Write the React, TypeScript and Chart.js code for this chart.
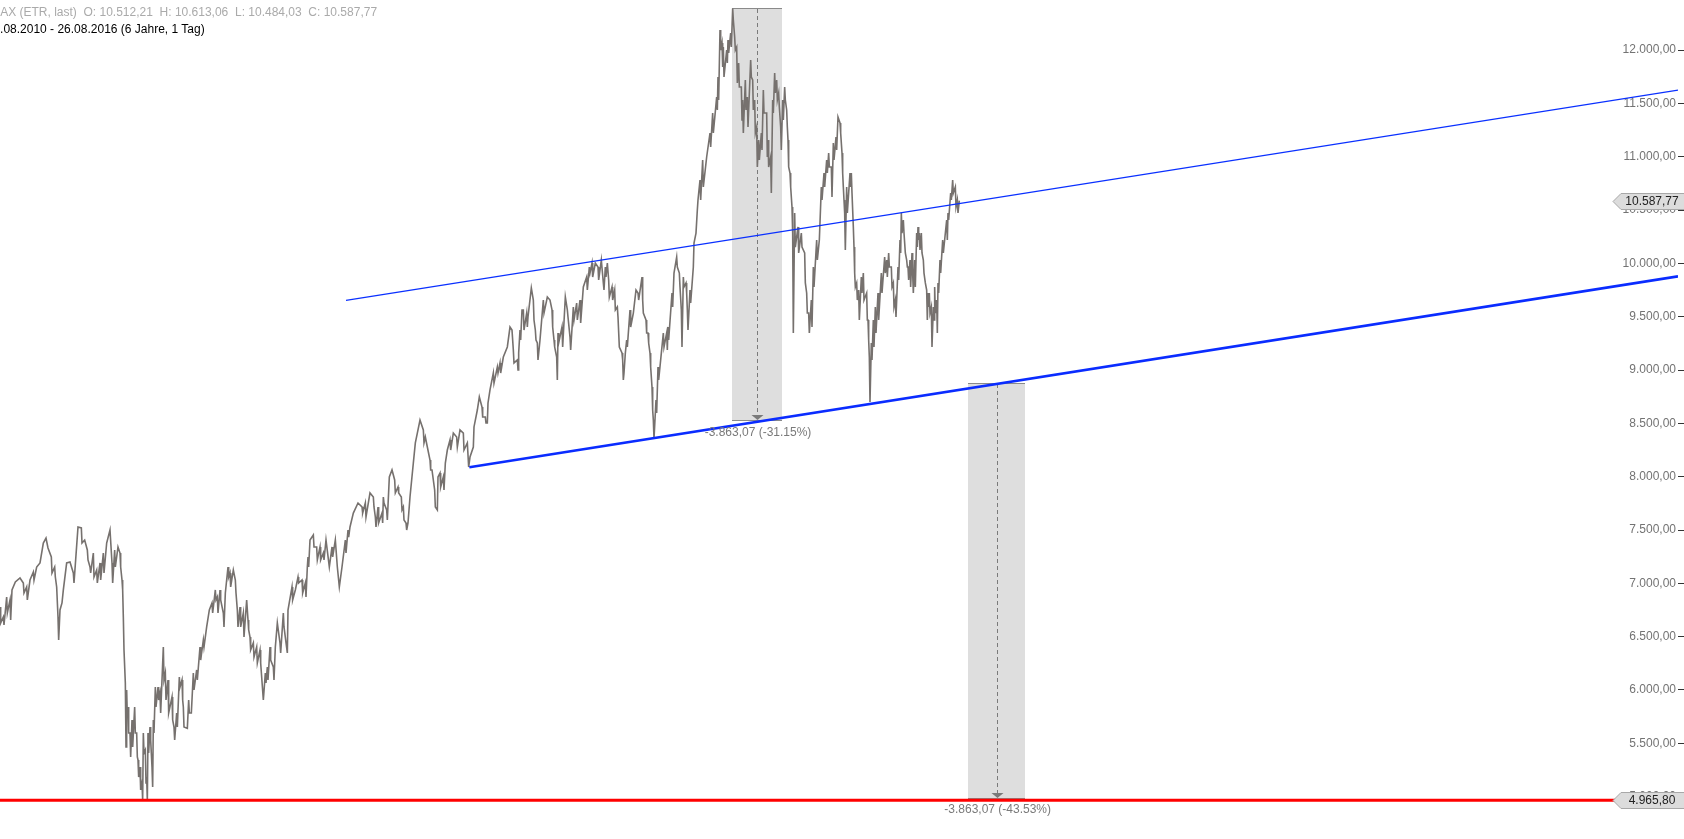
import React, { useEffect, useRef } from "react";
import { Chart, registerables } from "chart.js";

Chart.register(...registerables);

// ---- price series: [trading-day index, DAX level] (daily high / low swings) ----
const prices2011: [number, number][] = [
  [0, 6778], [1, 6628], [5, 6684], [6, 6609], [10, 6872], [11, 6722], [15, 6844], [16, 6656], [18, 6938], [23, 7013],
  [30, 7050], [35, 7003], [36, 6909], [40, 6966], [41, 6844], [45, 7031], [50, 7106], [51, 7031], [55, 7153], [60, 7191],
  [65, 7378], [69, 7425], [72, 7331], [77, 7247], [78, 7097], [82, 7153], [83, 7059], [85, 6966], [87, 6684], [88, 6469],
  [90, 6750], [93, 6816], [95, 6938], [100, 7191], [105, 7200], [110, 7097], [111, 7003], [114, 7266], [117, 7528], [122, 7519],
  [123, 7378], [127, 7406], [131, 7313], [132, 7219], [135, 7153], [136, 7097], [140, 7284], [141, 7059], [145, 7125], [146, 7003],
  [150, 7191], [151, 7031], [155, 7284], [156, 7097], [160, 7378], [165, 7500], [168, 7191], [169, 7003], [172, 7313], [173, 7153],
  [177, 7341], [180, 7284], [181, 7153], [183, 7031], [184, 6938], [185, 6684], [186, 6375], [188, 6066], [189, 5466], [190, 6000],
  [191, 5747], [192, 5841], [193, 5597], [195, 5597], [196, 5372], [198, 5719], [199, 5466], [202, 5841], [203, 5597], [205, 5597],
  [206, 5372], [207, 5344], [208, 5184], [210, 5278], [211, 5063], [213, 5128], [214, 4970], [215, 5597], [216, 5409], [218, 5438],
  [219, 5128], [220, 5184], [221, 4966], [222, 5597], [223, 5409], [225, 5653], [226, 5531], [228, 5278], [229, 5091], [230, 5719],
  [231, 5597], [233, 6028], [234, 5841], [237, 6028], [238, 5906],
];

const prices2012: [number, number][] = [
  [240, 5972], [241, 5784], [245, 6403], [246, 6094], [248, 6159], [249, 5906], [252, 6094], [253, 5784], [258, 5934], [259, 5719],
  [261, 5653], [262, 5531], [265, 5784], [266, 5653], [269, 6122], [270, 6028], [273, 6094], [274, 5906], [275, 5841], [276, 5653],
  [281, 5640], [283, 5906], [284, 5784], [287, 5784], [290, 6159], [291, 6000], [295, 6188], [296, 6094], [300, 6403], [301, 6281],
  [305, 6469], [306, 6403], [310, 6591], [314, 6750], [318, 6816], [319, 6722], [323, 6938], [324, 6844], [326, 6872], [327, 6722],
  [330, 6938], [331, 6844], [335, 6722], [336, 6591], [338, 6909], [342, 7153], [343, 7059], [345, 7097], [346, 6966], [350, 7125],
  [353, 7031], [354, 6909], [356, 6750], [357, 6591], [360, 6778], [361, 6591], [365, 6722], [366, 6497], [370, 6844], [372, 6656],
  [373, 6563], [375, 6497], [376, 6375], [380, 6441], [381, 6309], [385, 6403], [386, 6253], [390, 6375], [391, 6253], [395, 5906],
  [398, 6159], [399, 6066], [401, 6216], [402, 6094], [405, 6403], [406, 6281], [410, 6216], [411, 6094], [413, 6403], [416, 6628],
  [420, 6441], [421, 6347], [425, 6722], [426, 6591], [431, 6347], [432, 6750], [438, 6966], [439, 6844], [443, 6938], [447, 7059],
  [448, 7003], [453, 7031], [454, 6909], [458, 7003], [459, 6872], [461, 7153], [462, 7247], [463, 7153], [465, 7406], [470, 7453],
  [471, 7341], [475, 7341], [476, 7219], [480, 7341], [481, 7219], [485, 7284], [486, 7219], [489, 7406], [494, 7153], [498, 7341],
  [499, 7247], [503, 7406], [506, 7153], [509, 6966], [513, 7153], [518, 7406], [519, 7284], [522, 7500], [523, 7434], [525, 7528],
];

const prices2013: [number, number][] = [
  [530, 7659], [537, 7753], [543, 7716], [544, 7659], [548, 7753], [549, 7622], [555, 7847], [560, 7809], [561, 7716], [563, 7622],
  [564, 7528], [567, 7716], [568, 7566], [573, 7659], [574, 7566], [575, 7809], [576, 7753], [580, 7688], [581, 7594], [584, 7997],
  [588, 8063], [592, 7969], [593, 7847], [597, 7903], [598, 7847], [602, 7809], [603, 7688], [605, 7716], [606, 7594], [609, 7566],
  [610, 7500], [612, 7566], [615, 7809], [620, 8128], [623, 8316], [626, 8409], [630, 8531], [635, 8438], [636, 8316], [638, 8372],
  [641, 8278], [645, 8156], [646, 8063], [648, 8063], [652, 7875], [653, 7716], [656, 7688], [657, 7997], [660, 8034], [661, 7903],
  [665, 7997], [666, 7875], [668, 8128], [671, 8250], [675, 8344], [676, 8250], [680, 8409], [685, 8372], [686, 8278], [690, 8438],
  [695, 8409], [696, 8250], [701, 8316], [703, 8090], [705, 8184], [710, 8278], [711, 8466], [716, 8625], [719, 8747], [723, 8653],
  [724, 8559], [728, 8559], [729, 8503], [731, 8503], [732, 8691], [735, 8813], [740, 8972], [741, 8878], [746, 9028], [747, 8972],
  [750, 9066], [751, 8972], [755, 9122], [761, 9216], [765, 9403], [768, 9375], [770, 9188], [771, 9066], [776, 9094], [777, 9000],
  [778, 9159], [780, 9375], [781, 9281], [783, 9563], [785, 9563], [786, 9375], [790, 9534], [791, 9403], [792, 9497], [797, 9769],
  [800, 9656], [801, 9469], [803, 9375], [804, 9281], [806, 9253], [807, 9094], [810, 9281], [815, 9656], [816, 9534], [821, 9684],
  [825, 9656],
];

const prices2014: [number, number][] = [
  [828, 9563], [829, 9403], [831, 9281], [832, 9216], [835, 9122], [836, 8906], [837, 9347], [838, 9253], [843, 9403], [844, 9216],
  [848, 9684], [851, 9563], [852, 9497], [855, 9309], [856, 9188], [860, 9591], [861, 9469], [865, 9628], [866, 9469], [870, 9656],
  [871, 9441], [875, 9778], [880, 9872], [881, 9750], [884, 9966], [885, 9909], [888, 10003], [889, 9872], [893, 10003], [897, 9966],
  [898, 9844], [902, 10031], [905, 9816], [906, 9750], [908, 9966], [909, 9872], [911, 10003], [913, 9844], [914, 9684], [918, 9778],
  [919, 9656], [922, 9750], [923, 9563], [926, 9591], [927, 9497], [929, 9216], [933, 9159], [934, 9094], [935, 8906], [936, 8972],
  [938, 9159], [940, 9281], [941, 9216], [945, 9563], [946, 9403], [950, 9534], [954, 9750], [957, 9722], [958, 9656], [963, 9872],
  [964, 9656], [965, 9534], [969, 9469], [970, 9347], [972, 9347], [973, 9253], [975, 9159], [976, 9028], [978, 8841], [979, 8625],
  [980, 8531], [981, 8355], [984, 8719], [985, 8597], [987, 9028], [988, 8906], [992, 9159], [995, 9347], [996, 9216], [1000, 9347],
  [1001, 9188], [1002, 9403], [1003, 9281], [1008, 9722], [1009, 9591], [1011, 9909], [1015, 10059], [1016, 9966], [1019, 9909], [1020, 9778],
  [1022, 9563], [1023, 9216], [1025, 9872], [1026, 9778], [1029, 9816], [1030, 9722], [1031, 9563], [1032, 9375], [1035, 9750], [1036, 9628],
  [1040, 9966], [1041, 10191], [1044, 10284], [1046, 10500], [1047, 10594],
];

const prices2015: [number, number][] = [
  [1050, 10781], [1051, 10594], [1054, 10969], [1055, 10716], [1060, 10997], [1065, 11222], [1066, 11091], [1069, 11409], [1070, 11222], [1075, 11559],
  [1076, 11438], [1077, 11747], [1078, 11531], [1080, 12188], [1081, 12000], [1083, 12066], [1084, 11841], [1085, 12028], [1086, 11747], [1090, 12000],
  [1091, 11878], [1092, 12094], [1093, 11972], [1096, 12159], [1097, 12028], [1099, 12390], [1100, 12281], [1102, 12122], [1103, 12000], [1105, 12028],
  [1106, 11691], [1108, 11878], [1109, 11653], [1112, 11653], [1113, 11344], [1114, 11531], [1115, 11222], [1118, 11719], [1119, 11438], [1121, 11559],
  [1122, 11278], [1126, 11906], [1127, 11747], [1129, 11719], [1130, 11438], [1132, 11531], [1133, 11222], [1135, 11278], [1136, 10903], [1138, 11156],
  [1139, 10969], [1142, 11222], [1143, 11063], [1145, 11625], [1146, 11409], [1150, 11409], [1151, 10997], [1152, 11156], [1153, 10903], [1156, 10997],
  [1157, 10659], [1159, 11531], [1160, 11409], [1162, 11784], [1163, 11597], [1165, 11719], [1166, 11531], [1168, 11597], [1169, 11466], [1171, 11278],
  [1172, 11063], [1174, 11531], [1175, 11344], [1177, 11653], [1178, 11531], [1180, 11438], [1181, 11278], [1182, 11156], [1183, 10903], [1185, 10847],
  [1186, 10716], [1188, 10528], [1189, 10284], [1190, 9347], [1192, 10472], [1193, 10153], [1197, 10341], [1198, 10097], [1202, 10284], [1203, 10153],
  [1207, 10097], [1208, 9816], [1210, 9722], [1211, 9534], [1213, 9534], [1214, 9347], [1217, 9656], [1218, 9403], [1220, 9966], [1221, 9778],
  [1225, 10219], [1226, 10031], [1229, 10219], [1232, 10716], [1233, 10594], [1236, 10847], [1237, 10716], [1240, 10969], [1241, 10847], [1243, 11034],
  [1244, 10903], [1247, 10903], [1248, 10622], [1250, 11128], [1251, 10969], [1254, 11184], [1255, 11063], [1257, 11372], [1260, 11316], [1261, 11222],
  [1263, 11034], [1264, 10847], [1265, 10716], [1266, 10594], [1267, 10472], [1268, 10125], [1270, 10716], [1271, 10472], [1275, 10847], [1276, 10716],
  [1277, 10847], [1278, 10659], [1280, 10341], [1281, 10153], [1282, 9909], [1283, 9778], [1285, 9816], [1286, 9656], [1288, 9750], [1289, 9469],
];

const prices2016: [number, number][] = [
  [1292, 9872], [1293, 9722], [1295, 9909], [1296, 9656], [1300, 9722], [1301, 9469], [1302, 9469], [1303, 9281], [1304, 9122], [1305, 8700],
  [1307, 9253], [1308, 9094], [1310, 9469], [1311, 9216], [1313, 9591], [1314, 9347], [1317, 9722], [1318, 9469], [1322, 9909], [1323, 9722],
  [1327, 10059], [1328, 9909], [1330, 10031], [1331, 9872], [1333, 10097], [1334, 9966], [1337, 9966], [1338, 9778], [1340, 9816], [1341, 9591],
  [1343, 9656], [1344, 9497], [1347, 9966], [1348, 9844], [1350, 10219], [1351, 10097], [1352, 10472], [1353, 10284], [1355, 10406], [1356, 10284],
  [1357, 10284], [1358, 10097], [1360, 10031], [1361, 9966], [1362, 9966], [1363, 9844], [1365, 10031], [1366, 9778], [1368, 10097], [1369, 9909],
  [1370, 9722], [1372, 10031], [1373, 9778], [1375, 10284], [1376, 10153], [1377, 10341], [1378, 10219], [1379, 10284], [1380, 10125], [1382, 10284],
  [1383, 10097], [1385, 10031], [1386, 9909], [1387, 9909], [1388, 9816], [1390, 9750], [1391, 9469], [1392, 9722], [1393, 9591], [1394, 9722],
  [1395, 9534], [1397, 9591], [1398, 9216], [1400, 9591], [1401, 9469], [1402, 9778], [1403, 9534], [1405, 9656], [1406, 9347], [1407, 9816],
  [1408, 9722], [1410, 10031], [1411, 9909], [1414, 10219], [1415, 10097], [1420, 10406], [1421, 10219], [1422, 10472], [1423, 10406], [1426, 10659],
  [1427, 10594], [1429, 10781], [1430, 10659], [1433, 10716], [1434, 10528], [1436, 10594], [1437, 10472], [1439, 10588],
];

// ---- trend lines ----
const upperChannelDays = [519, 2517];
const upperChannelValues = [9652, 11625];
const lowerChannelDays = [704, 2517];
const lowerChannelValues = [8088, 9878];
const supportDays = [0, 2517];
const supportValues = [4965.8, 4965.8];

// ---- drawdown boxes ----
const boxStartDays = [1098, 1452];
const boxEndDays = [1173, 1538];
const boxHighs = [12390.75, 8874.5];
const boxLows = [8527.68, 4990];
const boxLabels = ["-3.863,07 (-31.15%)", "-3.863,07 (-43.53%)"];

// ---- price markers on the axis ----
const markerValues = [10587.77, 4965.8];

// ---- axis ----
const yTickValues = [5000, 5500, 6000, 6500, 7000, 7500, 8000, 8500, 9000, 9500, 10000, 10500, 11000, 11500, 12000];
const xMin = 0;
const xMax = 2517;
const yMin = 4603;
const yMax = 12469;

const headerLine1 = "DAX (ETR, last)  O: 10.512,21  H: 10.613,06  L: 10.484,03  C: 10.587,77";
const headerLine2 = "26.08.2010 - 26.08.2016 (6 Jahre, 1 Tag)";

const FONT = "'Liberation Sans', Arial, sans-serif";

function fmtDe(v: number): string {
  const fixed = Number(v).toFixed(2);
  const parts = fixed.split(".");
  const intPart = parts[0].replace(/\B(?=(\d{3})+(?!\d))/g, ".");
  return intPart + "," + parts[1];
}

function zip(xs: number[], ys: number[]) {
  return xs.map((x, i) => ({ x, y: ys[i] }));
}

const annotationPlugin = {
  id: "drawdownBoxes",
  beforeDatasetsDraw(chart: any) {
    const { ctx } = chart;
    const xs = chart.scales.x;
    const ys = chart.scales.y;
    ctx.save();
    for (let i = 0; i < boxStartDays.length; i++) {
      const x0 = Math.round(xs.getPixelForValue(boxStartDays[i]));
      const x1 = Math.round(xs.getPixelForValue(boxEndDays[i]));
      const yTop = Math.round(ys.getPixelForValue(boxHighs[i]));
      const yBot = Math.round(ys.getPixelForValue(boxLows[i]));
      ctx.fillStyle = "#dedede";
      ctx.fillRect(x0, yTop, x1 - x0, yBot - yTop);
      ctx.strokeStyle = "#8a8a8a";
      ctx.lineWidth = 1;
      ctx.setLineDash([]);
      ctx.beginPath();
      ctx.moveTo(x0, yTop + 0.5);
      ctx.lineTo(x1, yTop + 0.5);
      ctx.moveTo(x0, yBot + 0.5);
      ctx.lineTo(x1, yBot + 0.5);
      ctx.stroke();
      const cx = Math.round((x0 + x1) / 2) + 0.5;
      ctx.strokeStyle = "#7a7a7a";
      ctx.setLineDash([4, 3]);
      ctx.beginPath();
      ctx.moveTo(cx, yTop + 1);
      ctx.lineTo(cx, yBot - 5);
      ctx.stroke();
      ctx.setLineDash([]);
      ctx.fillStyle = "#7a7a7a";
      ctx.beginPath();
      ctx.moveTo(cx - 6, yBot - 5);
      ctx.lineTo(cx + 6, yBot - 5);
      ctx.lineTo(cx, yBot);
      ctx.closePath();
      ctx.fill();
    }
    ctx.restore();
  },
  afterDatasetsDraw(chart: any) {
    const { ctx } = chart;
    const xs = chart.scales.x;
    const ys = chart.scales.y;
    ctx.save();
    ctx.font = "12px " + FONT;
    ctx.fillStyle = "#7a7a7a";
    ctx.textAlign = "center";
    ctx.textBaseline = "alphabetic";
    for (let i = 0; i < boxStartDays.length; i++) {
      const x0 = xs.getPixelForValue(boxStartDays[i]);
      const x1 = xs.getPixelForValue(boxEndDays[i]);
      const yBot = ys.getPixelForValue(boxLows[i]);
      ctx.fillText(boxLabels[i], (x0 + x1) / 2 + 1, yBot + 15.5);
    }
    ctx.restore();
  },
  afterDraw(chart: any) {
    const { ctx } = chart;
    const ys = chart.scales.y;
    const w = chart.width;
    ctx.save();
    ctx.font = "12px " + FONT;
    for (const v of markerValues) {
      const cy = Math.round(ys.getPixelForValue(v)) + 0.5;
      const tip = w - 71;
      const left = w - 63;
      ctx.beginPath();
      ctx.moveTo(tip, cy);
      ctx.lineTo(left, cy - 8);
      ctx.lineTo(w + 2, cy - 8);
      ctx.lineTo(w + 2, cy + 8);
      ctx.lineTo(left, cy + 8);
      ctx.closePath();
      ctx.fillStyle = "#dcdcdc";
      ctx.fill();
      ctx.strokeStyle = "#a8a8a8";
      ctx.lineWidth = 1;
      ctx.stroke();
      ctx.fillStyle = "#222222";
      ctx.textAlign = "center";
      ctx.textBaseline = "middle";
      ctx.fillText(fmtDe(v), w - 32, cy + 0.5);
    }
    ctx.restore();
  },
};

export default function App() {
  const canvasRef = useRef<HTMLCanvasElement | null>(null);

  useEffect(() => {
    document.body.style.margin = "0";
    document.body.style.overflow = "hidden";
    const canvas = canvasRef.current;
    if (!canvas) return;
    const allPrices = [...prices2011, ...prices2012, ...prices2013, ...prices2014, ...prices2015, ...prices2016];
    const chart = new Chart(canvas, {
      type: "line",
      data: {
        datasets: [
          {
            label: "Support",
            data: zip(supportDays, supportValues),
            borderColor: "#ff0000",
            borderWidth: 3,
            pointRadius: 0,
            fill: false,
          },
          {
            label: "Lower channel",
            data: zip(lowerChannelDays, lowerChannelValues),
            borderColor: "#0a2cff",
            borderWidth: 2.6,
            pointRadius: 0,
            fill: false,
          },
          {
            label: "Upper channel",
            data: zip(upperChannelDays, upperChannelValues),
            borderColor: "#0a30ff",
            borderWidth: 1.2,
            pointRadius: 0,
            fill: false,
          },
          {
            label: "DAX",
            data: allPrices.map((p) => ({ x: p[0], y: p[1] })),
            borderColor: "#76716e",
            borderWidth: 1.6,
            pointRadius: 0,
            tension: 0,
            fill: false,
          },
        ],
      },
      options: {
        animation: false,
        responsive: false,
        devicePixelRatio: 1,
        layout: { padding: 0 },
        plugins: {
          legend: { display: false },
          tooltip: { enabled: false },
        },
        scales: {
          x: {
            type: "linear",
            min: xMin,
            max: xMax,
            display: false,
          },
          y: {
            type: "linear",
            position: "right",
            min: yMin,
            max: yMax,
            afterBuildTicks: (scale: any) => {
              scale.ticks = yTickValues.map((v) => ({ value: v }));
            },
            afterFit: (scale: any) => {
              scale.width = 6;
              scale.paddingTop = 0;
              scale.paddingBottom = 0;
            },
            border: { display: false },
            grid: {
              drawOnChartArea: false,
              drawTicks: true,
              tickLength: 6,
              color: "#333333",
              lineWidth: 1,
            },
            ticks: {
              mirror: true,
              padding: -2,
              color: "#737373",
              font: { family: FONT, size: 12 },
              callback: (v: any) => fmtDe(Number(v)),
            },
          },
        },
      },
      plugins: [annotationPlugin],
    });
    return () => chart.destroy();
  }, []);

  const headerStyle: React.CSSProperties = {
    position: "absolute",
    fontFamily: FONT,
    fontSize: "12px",
    lineHeight: "14px",
    whiteSpace: "pre",
    margin: 0,
  };

  return (
    <div style={{ position: "fixed", left: 0, top: 0, width: 1684, height: 839, overflow: "hidden", background: "#fff" }}>
      <canvas ref={canvasRef} width={1684} height={839} style={{ display: "block", width: 1684, height: 839 }} />
      <div style={{ ...headerStyle, left: -8.5, top: 5, color: "#aaaaaa" }}>{headerLine1}</div>
      <div style={{ ...headerStyle, left: -13.3, top: 22, color: "#000000" }}>{headerLine2}</div>
    </div>
  );
}
